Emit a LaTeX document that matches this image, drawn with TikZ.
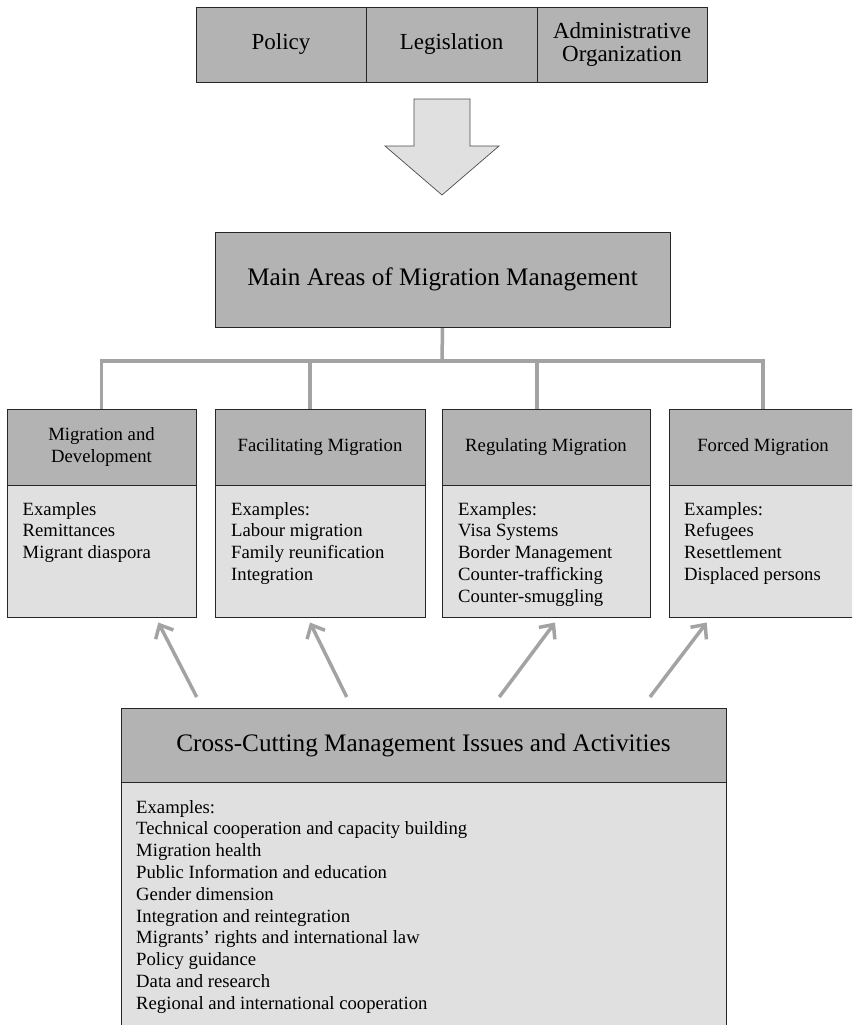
\documentclass[tikz,border=0pt]{standalone}
\usepackage{fontspec}
\setmainfont{Liberation Serif}
\usetikzlibrary{arrows.meta,backgrounds}
\definecolor{hdrgray}{HTML}{B3B3B3}
\definecolor{bodygray}{HTML}{E0E0E0}
\definecolor{conngray}{HTML}{A3A3A3}
\begin{document}
\begin{tikzpicture}[x=1pt,y=-1pt,
  box/.style={draw=black!85, line width=0.8pt, inner sep=0pt, align=center},
  hdr/.style={box, fill=hdrgray},
  bodyb/.style={box, fill=bodygray},
  ftop/.style={font=\fontsize{23}{23.5}\selectfont},
  fbig/.style={font=\fontsize{25.2}{26}\selectfont},
  fsmall/.style={font=\fontsize{18.7}{21.8}\selectfont},
  listtext/.style={fsmall, anchor=north west, inner sep=0pt, align=left},
  conn/.style={draw=conngray, line width=3.5pt},
  upar/.style={conn, -{Straight Barb[length=11pt,width=20pt]}},
  blockarrow/.style={fill=bodygray, draw=black!70, line width=0.7pt},
]
\useasboundingbox (0,0) rectangle (852,1025);
\clip (0,0) rectangle (852,1025);

% top bar
\node[hdr, ftop, minimum width=170, minimum height=75] (policy) at (281,44.5) {Policy};
\node[hdr, ftop, minimum width=171, minimum height=75] (legis) at (451.5,44.5) {Legislation};
\node[hdr, ftop, minimum width=170, minimum height=75] (admin) at (622,44.5) {Administrative\\Organization};

% block arrow
\draw[blockarrow] (414,99) -- (470,99) -- (470,146) -- (499,146) -- (442,195) -- (385,146) -- (414,146) -- cycle;

% main box
\node[hdr, fbig, minimum width=455, minimum height=95] (main) at (442.5,279.5) {Main Areas of Migration Management};

% area headers
\node[hdr, fsmall, minimum width=189, minimum height=76] (h1) at (101.5,447) {Migration and\\Development};
\node[hdr, fsmall, minimum width=210, minimum height=76] (h2) at (320,447) {Facilitating Migration};
\node[hdr, fsmall, minimum width=208, minimum height=76] (h3) at (546,447) {Regulating Migration};
\node[hdr, fsmall, minimum width=188, minimum height=76] (h4) at (763,447) {Forced Migration};

% area bodies
\node[bodyb, minimum width=189, minimum height=132, anchor=north] (b1) at (h1.south) {};
\node[bodyb, minimum width=210, minimum height=132, anchor=north] (b2) at (h2.south) {};
\node[bodyb, minimum width=208, minimum height=132, anchor=north] (b3) at (h3.south) {};
\node[bodyb, minimum width=188, minimum height=132, anchor=north] (b4) at (h4.south) {};

\node[listtext] (t1) at (22.5,502) {Examples\\Remittances\\Migrant diaspora};
\node[listtext] (t2) at (231,502) {Examples:\\Labour migration\\Family reunification\\Integration};
\node[listtext] (t3) at (458,502) {Examples:\\Visa Systems\\Border Management\\Counter-trafficking\\Counter-smuggling};
\node[listtext] (t4) at (684,502) {Examples:\\Refugees\\Resettlement\\Displaced persons};

% cross-cutting
\node[hdr, fbig, minimum width=605, minimum height=74] (cross) at (423.5,745) {Cross-Cutting Management Issues and Activities};
\node[bodyb, minimum width=605, minimum height=270, anchor=north] (crossb) at (cross.south) {};
\node[listtext] (tc) at (136,800) {Examples:\\Technical cooperation and capacity building\\Migration health\\Public Information and education\\Gender dimension\\Integration and reintegration\\Migrants’ rights and international law\\Policy guidance\\Data and research\\Regional and international cooperation};

% connectors
\begin{scope}[on background layer]
\coordinate (hub) at (442,361);
\draw[conn] (main.south) -- (hub);
\draw[conn] (h1.north) -- (h1.north |- hub) -- (h4.north |- hub) -- (h4.north);
\draw[conn] ([xshift=-10pt]h2.north) -- ([xshift=-10pt]h2.north |- hub);
\draw[conn] ([xshift=-9pt]h3.north) -- ([xshift=-9pt]h3.north |- hub);
\end{scope}

\coordinate (a1s) at (196.7,697); \coordinate (a1e) at (158.3,622.5);
\coordinate (a2s) at (346.7,697); \coordinate (a2e) at (310,622.5);
\coordinate (a3s) at (499.3,697); \coordinate (a3e) at (555,622.5);
\coordinate (a4s) at (650,697);   \coordinate (a4e) at (706.7,622.5);
\draw[upar] (a1s) -- (a1e);
\draw[upar] (a2s) -- (a2e);
\draw[upar] (a3s) -- (a3e);
\draw[upar] (a4s) -- (a4e);
\end{tikzpicture}
\end{document}
